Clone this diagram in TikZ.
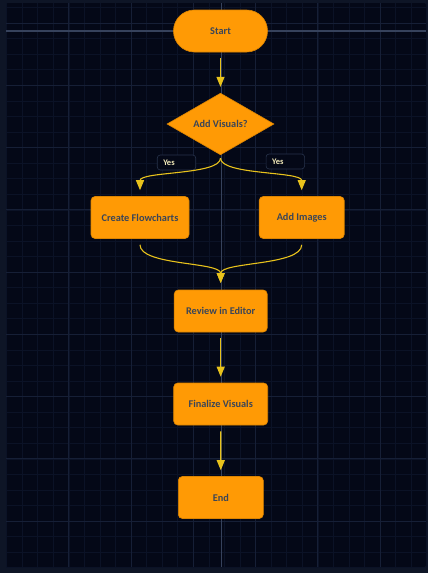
\documentclass[tikz,border=0pt]{standalone}
\usepackage{fontspec}
\setmainfont{Carlito}
\usetikzlibrary{positioning,arrows.meta,shapes.geometric}

\definecolor{bgnavy}{HTML}{040817}
\definecolor{framenavy}{HTML}{0E1526}
\definecolor{gridminor}{HTML}{0B1226}
\definecolor{gridmajor}{HTML}{161F36}
\definecolor{gridaxis}{HTML}{36425C}
\definecolor{boxorange}{HTML}{FF9A05}
\definecolor{boxedge}{HTML}{DC8400}
\definecolor{boxtext}{HTML}{3B4557}
\definecolor{flowgold}{HTML}{E8C21C}
\definecolor{lbledge}{HTML}{27324A}
\definecolor{lbltext}{HTML}{F2E9B8}

\tikzset{
	basebox/.style={fill=boxorange, draw=boxedge, line width=0.6pt,
		inner sep=0pt, text=boxtext, font=\bfseries\fontsize{10.3}{12}\selectfont},
	startstop/.style={basebox, rounded corners=20.9pt,
		minimum width=94pt, minimum height=42pt},
	process/.style={basebox, rounded corners=4pt, minimum height=42pt},
	decision/.style={basebox, diamond, minimum width=107pt, minimum height=60pt},
	lbl/.style={fill=bgnavy, draw=lbledge, line width=0.6pt, rounded corners=3pt,
		text=lbltext, font=\bfseries\fontsize{8.5}{9}\selectfont,
		text width=26.5pt, inner xsep=6pt, inner ysep=0pt,
		minimum height=15pt, align=left},
	flow/.style={draw=flowgold, line width=1.1pt,
		-{Triangle[width=8pt,length=10pt,fill=flowgold]},
		shorten <=6pt, shorten >=6pt}
}

\begin{document}
\begin{tikzpicture}[x=1pt,y=-1pt]

	\useasboundingbox (0,0) rectangle (428,573);
	\fill[framenavy] (0,0) rectangle (428,573);
	\fill[bgnavy, rounded corners=2pt] (6,3) rectangle (426,567);

	% grid
	\foreach \k in {0,...,27}
		\draw[gridminor, line width=0.5pt] ({6.5+15.5625*\k},3) -- ({6.5+15.5625*\k},567);
	\foreach \k in {0,...,36}
		\draw[gridminor, line width=0.5pt] (6,{7.44+15.5625*\k}) -- (426,{7.44+15.5625*\k});
	\foreach \k in {1,...,6}
		\draw[gridmajor, line width=0.8pt] ({6.5+62.25*\k},3) -- ({6.5+62.25*\k},567);
	\foreach \k in {0,...,8}
		\draw[gridmajor, line width=0.8pt] (6,{23+62.25*\k}) -- (426,{23+62.25*\k});
	\draw[gridaxis, line width=1.2pt] (6,31) -- (426,31);
	\draw[gridaxis, line width=0.8pt] (221,3) -- (221,567);

	% nodes
	\node[startstop] (start) at (220.5,31) {Start};
	\node[decision] (visuals) at (220.5,124) {Add Visuals?};
	\node[process, minimum width=98pt] (flowcharts) at (140,217.5) {Create Flowcharts};
	\node[process, minimum width=85pt] (images) at (301.7,217.5) {Add Images};
	\node[process, minimum width=93pt] (review) at (220.7,311) {Review in Editor};
	\node[process, minimum width=94pt] (finalize) at (220.7,404) {Finalize Visuals};
	\node[process, minimum width=85pt] (end) at (220.8,497.5) {End};

	\node[lbl] (yesleft) at (176.5,162.5) {Yes};
	\node[lbl] (yesright) at (285.3,161.5) {Yes};

	% connectors
	\draw[flow] (start) -- (visuals);
	\draw[flow, shorten <=3pt] (visuals.south) .. controls +(0,20) and +(0,-25) .. (flowcharts.north);
	\draw[flow, shorten <=3pt] (visuals.south) .. controls +(0,20) and +(0,-25) .. (images.north);
	\draw[flow, shorten >=6.7pt] (flowcharts.south) .. controls +(0,27) and +(0,-28) .. (review.north);
	\draw[flow, shorten >=6.7pt] (images.south) .. controls +(0,27) and +(0,-28) .. (review.north);
	\draw[flow] (review) -- (finalize);
	\draw[flow] (finalize) -- (end);

\end{tikzpicture}
\end{document}
